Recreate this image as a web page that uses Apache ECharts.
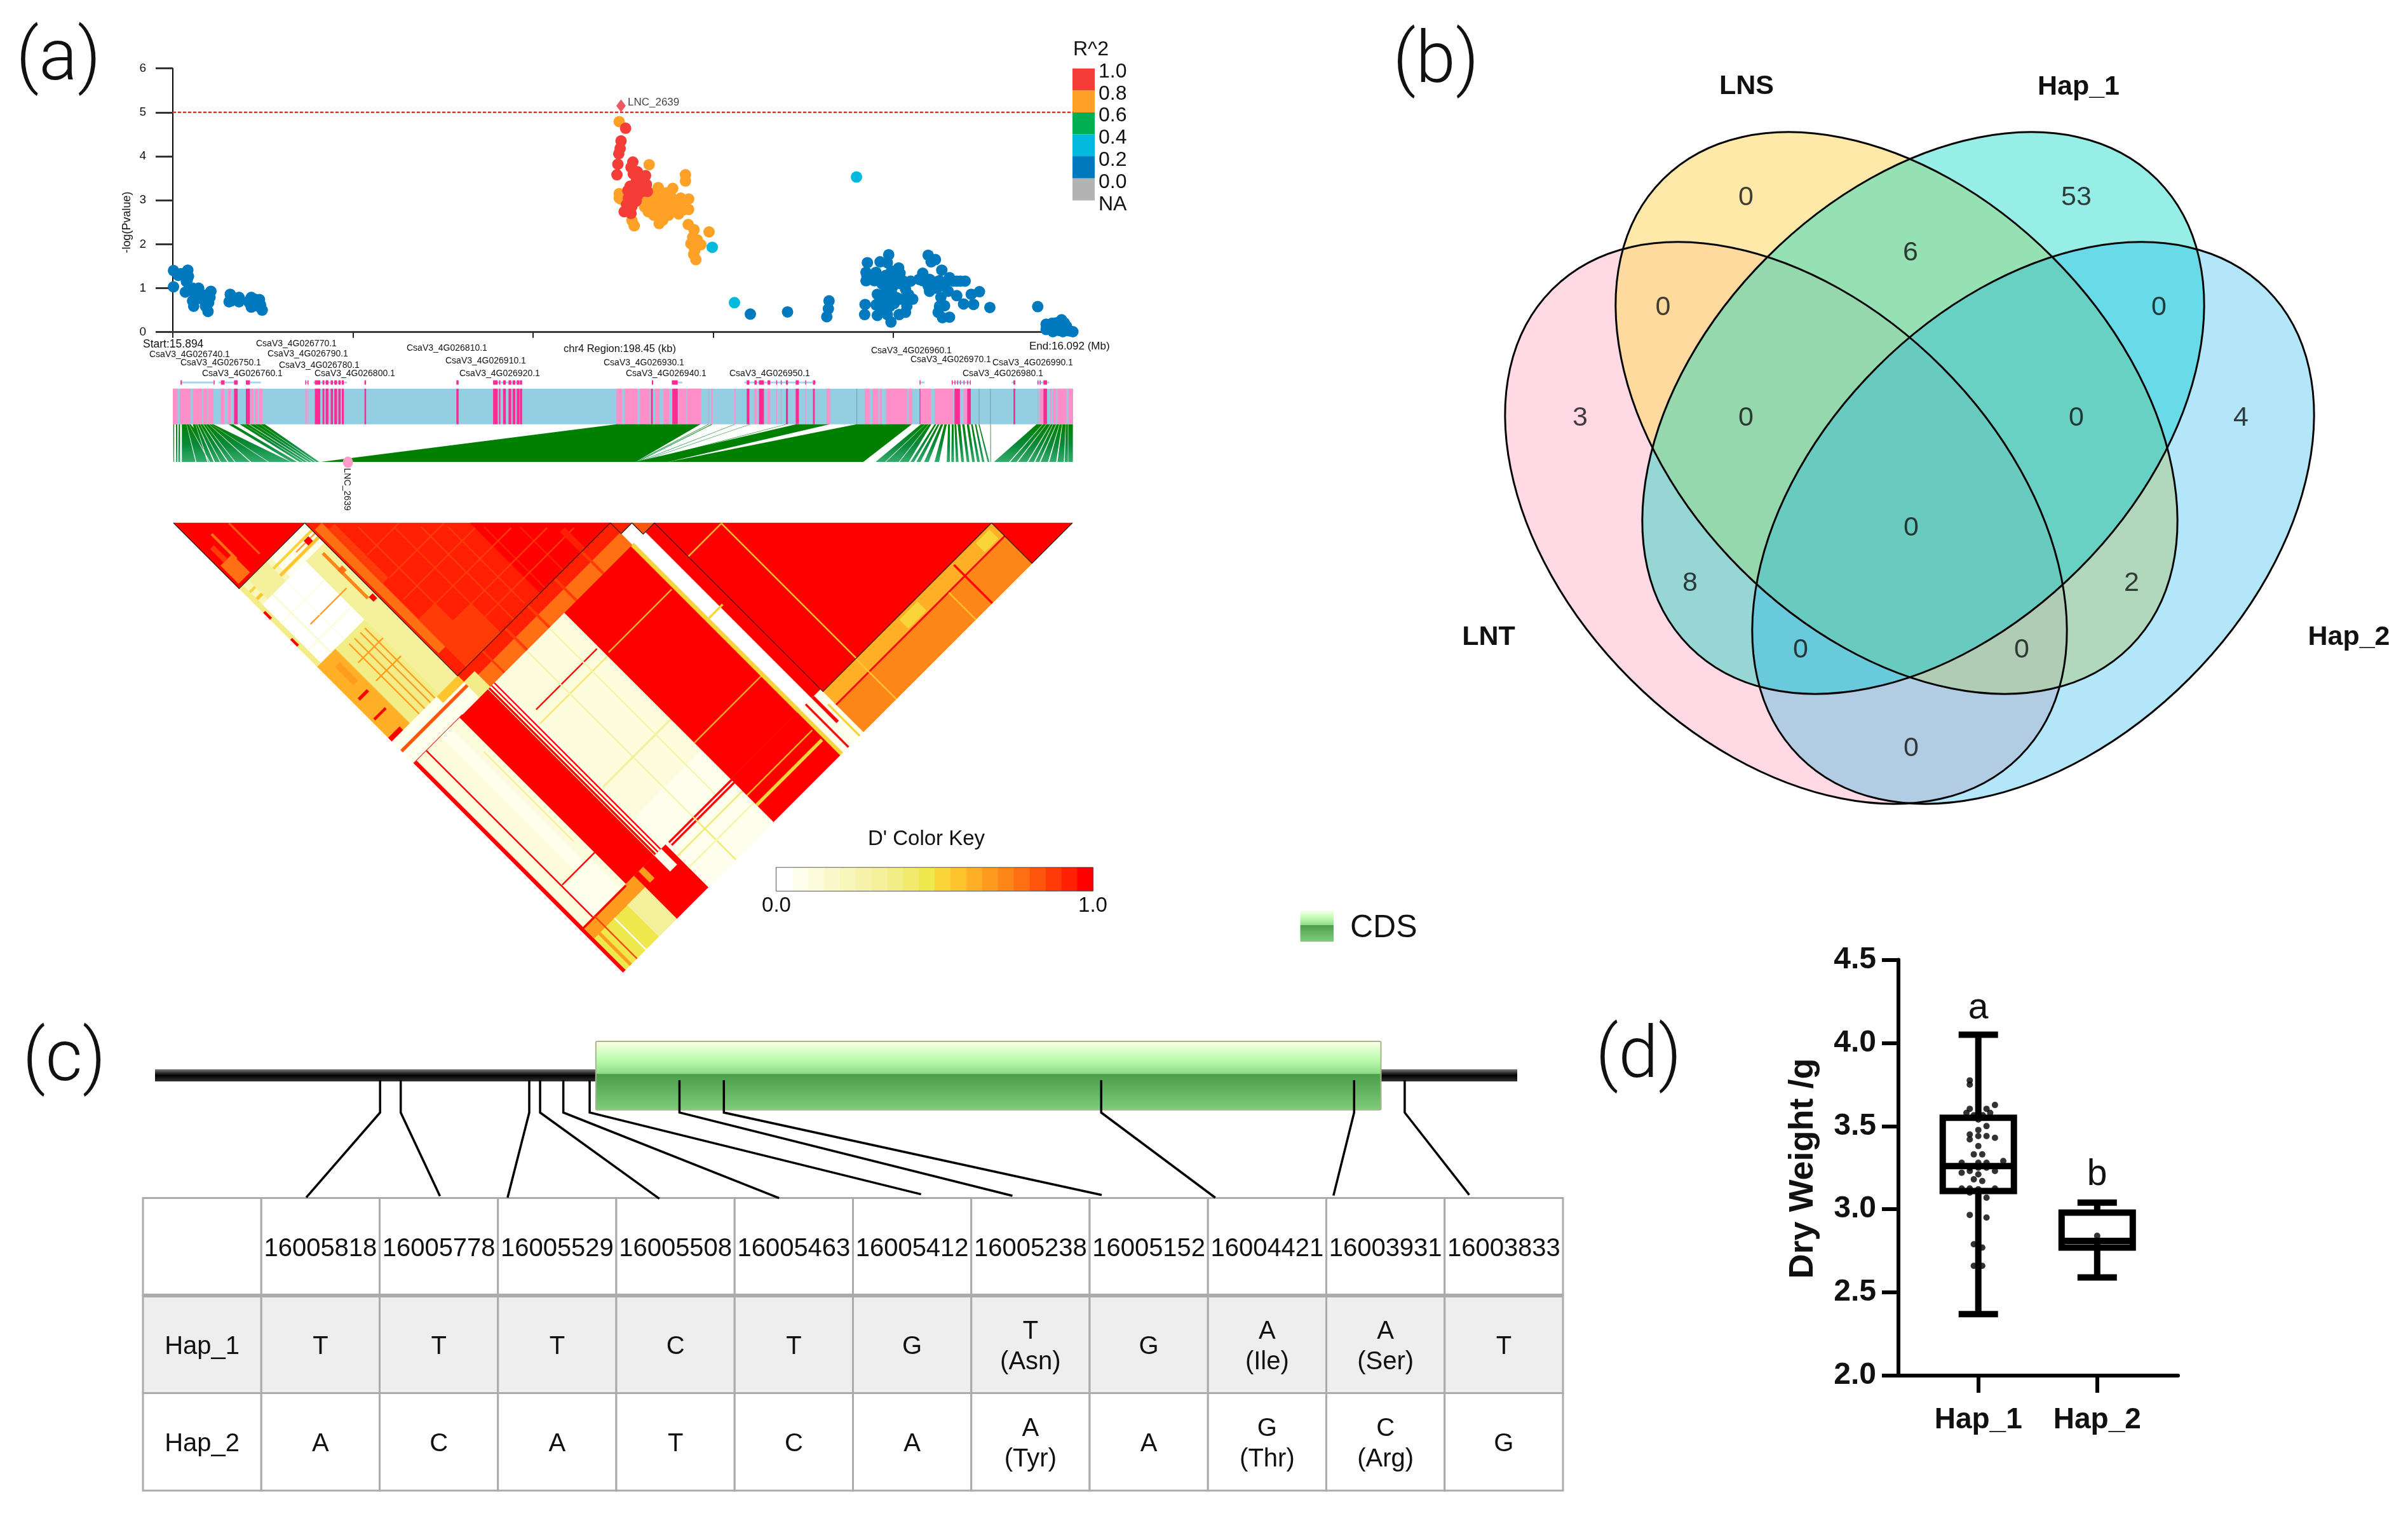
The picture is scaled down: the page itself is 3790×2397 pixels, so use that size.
<!DOCTYPE html>
<html><head><meta charset="utf-8">
<script src="https://cdn.jsdelivr.net/npm/echarts@6/dist/echarts.min.js"></script>
<style>html,body{margin:0;padding:0;background:#fff}#c{width:3790px;height:2397px}</style></head>
<body><div id="c"></div>
<script>
// ---------- (a) regional association: [kb from start, -log10(P)] ----------
const rBlue=[[.15,1.40],[.15,1.03],[1.2,1.29],[3.3,1.41],[3.46,1.27],[3,1.15],[2.75,.91],[4.35,1.0],[4.8,.88],[4.35,.71],[4.6,.59],[5.7,1.0],[6.1,.86],[7,.71],[7.2,.59],[7.75,.47],[8.4,.93],[8.2,.79],[7.9,.67],[12.66,.86],[12.4,.69],[12.84,.71],[14.6,.79],[14.6,.69],[17.3,.79],[16.85,.67],[17.3,.57],[19.1,.74],[19.35,.62],[19.7,.5],[18.2,.67],[1.8,1.33],[3.2,1.2],[5,.75],[5.5,.9],[6.5,.75],[7.5,.85],[13,.75],[18,.75],[18.5,.6],[16.9,.72],
[127.3,.41],[135.5,.46],[144.65,.71],[144.5,.53],[144.15,.35],
[153.1,1.58],[157.8,1.76],[155.9,1.6],[157.5,1.58],[160,1.46],[152.8,1.36],[155,1.36],[158.4,1.39],[160.3,1.34],[152.8,1.17],[154.65,1.17],[157.15,1.29],[159,1.2],[160.9,1.17],[162.65,1.16],[157.8,1.05],[161.5,.98],[155.3,.86],[159.3,.79],[161.2,.74],[163.1,.75],[155,.62],[158.1,.59],[159.6,.78],[161.8,.59],[152.6,.63],[152.5,.4],[155.3,.38],[157.5,.4],[158.3,.23],[160.1,.4],[161.5,.45],[157.2,.95],[158.4,.9],[153.6,1.26],[156,1.2],[157.8,1.25],[156.5,.75],[158,.72],[154,1.25],[153,1.28],[155.8,.72],[156.4,.55],[159,.65],[160.4,.75],[162.2,.85],[160.5,1.1],[156.3,1.1],[158.8,1.05],
[166.5,1.75],[168.1,1.65],[167.15,1.6],[169.5,1.41],[165.3,1.34],[171.2,1.24],[165.3,1.17],[167.2,1.15],[169,1.17],[170.9,1.17],[172.8,1.16],[174.65,1.16],[166.8,.93],[169.3,1.05],[170.9,.93],[169.3,.79],[172.8,.83],[177.8,.92],[176,.86],[174.3,.64],[176.5,.63],[169,.59],[168.7,.45],[169.65,.33],[171.2,.34],[180.1,.56],[190.65,.58],[166.5,1.05],[168,1.1],[164.5,1.2],[166.8,1.2],[168.2,1.0],[170.1,.6],[172,1.16],[173.6,1.16],[168.5,1.15],
[192.5,.18],[195.9,.28],[194.65,.21],[196.5,.21],[193.4,.09],[195.3,.04],[197.15,.06],[198.4,.01],[192.5,.06],[196.2,.01],[194,.01],[195.4,.18],[197.6,.03],[193,.14],[194,.12],[195,.13],[196,.12],[197,.13],[193.8,.2]];
const rCyan=[[118.9,1.93],[150.7,3.53],[123.8,.67]];
const rOrange=[[98.4,4.79],[105,3.81],[113,3.58],[113,3.44],[98.4,3.15],[98.4,3.05],[98.7,3.03],[107,3.29],[110.2,3.27],[108.8,3.17],[105.7,3.15],[104.4,3.07],[103.9,3.0],[106.6,3.07],[107.9,3.05],[109.7,3.1],[111.96,3.05],[113.7,3.03],[111.5,2.98],[109.3,2.95],[107,2.95],[105.3,2.88],[104.8,2.74],[106.6,2.76],[107.9,2.79],[109.7,2.83],[111.96,2.88],[113.7,2.79],[111.5,2.69],[109.3,2.66],[107,2.64],[107.2,2.47],[101.2,2.54],[101.7,2.42],[113.6,2.45],[114.9,2.33],[118.2,2.28],[114.6,2.16],[114.2,2.01],[116.4,1.99],[115.1,1.87],[115.3,1.65],[104,2.85],[106,2.95],[108.5,2.85],[110.5,2.9],[106,2.66],[108,2.55],[112.5,2.78],[115.6,2.1],[114.8,1.77],[115,1.9]];
const rRed=[[99.8,4.64],[98.8,4.35],[98.6,4.18],[98.3,4.06],[98.1,3.82],[97.9,3.58],[101.4,3.87],[101,3.75],[102.4,3.65],[104.2,3.56],[103,3.48],[102.1,3.41],[100.8,3.32],[104.4,3.36],[102.6,3.27],[100.3,3.22],[101.7,3.15],[103,3.32],[101.2,3.03],[102.1,2.98],[100.8,2.91],[100.3,2.76],[99.5,2.74],[101.2,2.86],[103.4,3.2],[101.9,3.05],[101.5,3.6],[102.6,3.5],[103.6,3.4],[100.4,3.05],[101,2.7],[104.6,3.2],[100,2.9],[102.4,3.1]];
const rLead=[[98.8,5.15]];
const pThreshold=5;
const xTickKb=[0,39.7,79.4,119.1,158.8];
const r2Colors=['#F53D37','#FFA126','#00B050','#00B9DC','#0079BF','#B3B3B3'];
const r2Labels=['1.0','0.8','0.6','0.4','0.2','0.0','NA'];

// ---------- (a) tracks: kb intervals ----------
const bandLight=[[0,1.08],[1.53,3.94],[4.39,6.44],[6.7,7.6],[7.8,8.94],[10.55,11.35],[12.07,12.78],[17.2,17.8],[18.1,18.7],[19,19.8],[29.2,29.5],[29.75,29.9],[97.8,99],[99.6,102.4],[102.9,105.1],[106.3,107.3],[108.15,109.4],[111.5,113.2],[113.4,116.5],[118,118.2],[118.7,119],[123.8,124],[128.2,128.7],[131.1,131.7],[133,133.2],[134,134.2],[139.4,139.6],[144.1,144.9],[152.5,153.6],[154.2,155.5],[155.8,156.3],[157.2,161.9],[162.2,163],[164.9,167.2],[167.9,172],[174.3,175],[190.6,190.8],[191.1,191.8],[193.4,193.7],[194,194.7],[195,197],[197.4,198.4]];
const bandDeep=[[13.5,14.3],[16.1,17],[31.3,32.5],[33,33.4],[33.7,34.3],[34.8,35.3],[35.6,36.2],[36.5,37],[37.25,37.7],[42.25,42.6],[62.5,63],[70.6,71.6],[71.9,72.2],[72.8,73.4],[74,74.6],[74.9,75.5],[75.8,76.4],[76.5,77],[105.4,105.8],[110.1,111.3],[126.5,127.1],[129.2,130.3],[135.15,135.6],[137.3,138],[141.1,141.5],[164.6,164.8],[172.3,173.5],[175.1,175.9],[185.3,185.7],[191.9,192.7]];
const bandGrey=[[150.7,150.85],[177.65,177.8],[180.15,180.3]];
const geneSpans=[[1.7,9.1],[10.1,14],[16.1,19.4],[29.2,29.9],[31,38.4],[70.6,76.8],[110,112.3],[126,141.8],[164.6,165.7],[171.6,175.9],[184.9,185.7],[190.5,193.2]];
const geneExons=[[1.7,2],[9,9.2],[10.6,11.4],[13.5,14.3],[16.1,17],[29.2,29.4],[29.7,29.9],[31.3,32.5],[33,33.4],[33.7,34.3],[34.8,35.3],[35.6,36.2],[36.5,37],[37.25,37.7],[42.25,42.6],[62.5,63],[70.6,71.6],[71.9,72.2],[72.8,73.4],[74,74.6],[74.9,75.5],[75.8,76.4],[76.5,77],[105.6,105.9],[110,111.3],[126.5,127.1],[128.2,128.7],[129.2,130.3],[131.1,131.7],[133,133.2],[134,134.2],[135.15,135.6],[137.3,138],[139.4,139.6],[141.1,141.6],[164.6,164.8],[171.7,171.9],[172.3,172.5],[172.9,173.1],[173.5,173.7],[174.3,174.5],[175.1,175.3],[175.7,175.9],[185.3,185.7],[190.6,190.8],[191.1,191.3],[191.9,192.7]];
// fan polygons: [top from, top to, bottom from, bottom to] in kb
const fanSolid=[[97.8,116.3,32.6,102],[137.4,144.8,101.9,109.2],[150.7,162.9,109.2,152.2]];
const fanFine=[[.1,.3,.1,.3],[.7,1,.7,1],[1.3,1.6,1.2,1.6],[2,3.94,2,10.9],[4.39,8.94,6.9,26],[12.25,13.3,26.1,27.4],[14.75,16.7,27.9,29.66],[16.9,20.3,29.9,32.3],
[118,118.2,101.9,102.2],[118.7,119,102.2,102.5],[123.8,124,102.4,102.7],[127.2,127.4,102.7,103],[135.15,135.4,103,103.6],
[164.9,167.2,154.9,162.2],[167.9,168.3,162.6,163.4],[168.6,169,163.9,164.8],[169.3,169.8,165.6,166.6],[170.1,170.6,167.9,168.9],[170.9,171.3,170.6,171.3],[171.7,172.1,171.6,172.2],[172.3,172.7,172.6,173.2],[173,173.6,173.8,174.4],[174,174.5,175,175.6],[175,175.5,176.2,176.8],[175.95,176.3,177.3,177.9],[176.8,177.1,178.4,178.9],[177.6,177.8,179.6,180],[180.2,180.3,180.2,180.35],[190.4,198.4,181,198.4]];
const fanGaps=[[5.4,5.5,9,9.3],[6.6,6.7,12,12.3],[3,3.06,5,5.2],[7.9,7.98,17,17.3],[3.5,3.55,8,8.2],[5,5.06,7.6,7.8],[6,6.06,10.4,10.6],[7.2,7.26,13.6,13.8],[8.4,8.46,21,21.2],[15.7,15.76,28.7,28.9],[18,18.06,30.6,30.8],[19.2,19.26,31.4,31.6],[165.8,165.86,157,157.2],[166.6,166.66,160,160.2],[191.7,191.8,184.3,184.6],[192.5,192.58,186,186.3],[193.4,193.5,188.3,188.6],[194,194.08,189.8,190.1],[194.7,194.8,191,191.3],[195.4,195.48,192.9,193.2],[196,196.1,194.7,195],[196.8,196.86,196.4,196.6],[197.3,197.38,197.3,197.38]];
const lncSnpKb=38.6;

// ---------- (a) D' LD map: [i from, i to, j from, j to, D'] as fractions of the SNP order ----------
const haploBlocks=[[0,.146],[.146,.486],[.486,.51],[.51,.535],[.535,.91],[.91,1]];
const ldCells=[
[0,.146,0,.146,1],[.005,.03,.10,.14,.8],[.028,.032,.055,.11,.8],[.06,.063,.062,.13,.85],[.012,.02,.07,.1,.9],
[.146,.486,.146,.486,.97],[.33,.486,.33,.486,1],[.15,.165,.165,.44,.78],[.165,.178,.18,.3,.88],[.165,.2,.38,.486,.9],[.2,.24,.42,.486,.92],
[.2,.202,.21,.486,.9],[.24,.242,.25,.486,.9],[.27,.272,.28,.486,.92],[.3,.302,.31,.48,.92],[.34,.342,.35,.486,.94],[.38,.382,.39,.486,.94],
[.18,.25,.25,.252,.9],[.18,.3,.3,.302,.9],[.17,.33,.34,.342,.9],[.17,.37,.38,.382,.92],[.2,.41,.42,.422,.92],[.2,.44,.45,.452,.92],[.42,.43,.44,.486,.96],
[.486,.51,.486,.51,.93],[.51,.535,.51,.535,.85],
[.535,.91,.535,.91,1],[.608,.61,.61,.91,.6],[.535,.608,.609,.611,.6],[.91,1,.91,1,1],
// S1 x S2
[0,.146,.146,.486,.2],[.07,.146,.146,.19,.05],[0,.146,.175,.18,.6],[0,.146,.16,.164,.55],[.02,.06,.146,.19,.3],[.008,.105,.19,.32,.02],[0,.008,.146,.32,.38],[.105,.146,.19,.486,.3],[.04,.105,.32,.486,.38],[0,.04,.32,.486,.62],[.04,.12,.264,.266,.7],[.03,.032,.19,.32,.15],[.06,.061,.19,.32,.12],[.008,.105,.23,.232,.1],[.008,.105,.29,.292,.1],[.06,.062,.33,.486,.66],[.072,.074,.33,.486,.66],[.085,.087,.33,.486,.7],[.095,.097,.33,.486,.7],[.05,.105,.36,.362,.68],[.05,.105,.40,.402,.68],[.01,.03,.40,.405,1],[.005,.03,.44,.444,1],[0,.025,.478,.486,.98],[.0,.004,.2,.215,1],[.0,.004,.26,.275,1],[.104,.146,.168,.17,.7],[.13,.135,.2,.3,.75],[.02,.03,.34,.38,.7],[.125,.135,.165,.175,1],[.13,.14,.235,.245,.8],[.135,.143,.3,.31,1],
// j in S3, S4 against S2
[.146,.486,.486,.508,.93],[.146,.486,.508,.535,.78],[.2,.203,.486,.535,.88],[.25,.254,.486,.535,.88],[.3,.304,.486,.535,.88],[.36,.364,.486,.535,.9],[.42,.424,.486,.535,.9],[.146,.17,.5,.535,.35],
// against S1
[0,.146,.486,.535,.03],[.1,.146,.486,.5,.6],[0,.146,.505,.51,.85],[0,.108,.534,.537,1],
// S5 column groups
[0,.102,.535,.905,.1],[.06,.08,.535,.905,.06],[.03,.09,.84,.905,.04],[.0,.006,.535,.905,1],[.027,.029,.535,.905,1],[.03,.102,.834,.836,1],[.09,.092,.6,.8,.3],
[.102,.165,.535,.905,1],[.165,.184,.535,.905,.03],[.166,.169,.535,.905,1],[.172,.174,.535,.905,1],[.178,.18,.535,.905,1],
[.184,.335,.535,.905,.08],[.196,.331,.61,.612,1],[.184,.335,.63,.632,.4],[.184,.335,.84,.905,.03],[.25,.252,.535,.905,.25],[.184,.335,.77,.773,.3],[.3,.302,.535,.905,.25],
[.335,.49,.535,.905,1],[.34,.48,.627,.629,.65],[.335,.49,.823,.825,.65],[.483,.49,.535,1,.52],[.49,.515,.535,.905,0],[.515,.535,.535,.905,1],[.49,.52,.7,.703,.5],
// S6 row groups
[0,.006,.905,1,1],[.006,.12,.905,1,.48],[.006,.12,.905,.93,.68],[.08,.12,.93,1,.3],[.05,.052,.93,1,.02],[0,.1,.905,.908,1],[.03,.032,.905,1,.9],[.015,.02,.93,1,.7],
[.12,.19,.905,1,1],[.165,.18,.905,.94,.05],[.13,.14,.905,.93,.7],
[.19,.335,.905,1,.03],[.196,.335,.905,.908,1],[.196,.335,.911,.914,1],[.19,.335,.93,.932,.4],[.25,.252,.905,1,.4],[.19,.335,.955,.958,.2],
[.335,.483,.905,1,1],[.335,.48,.94,.942,.65],[.335,.48,.93,.932,.98],[.335,.48,.96,.965,.5],
[.49,.535,.905,1,.05],[.5,.503,.905,1,1],[.515,.52,.905,.96,1],[.525,.528,.93,1,.55],
[.535,.91,.91,.938,.62],[.7,.74,.915,.935,.5],[.87,.9,.915,.935,.5],[.535,.91,.938,.941,.98],[.535,.91,.941,1,.76],[.82,.91,.941,1,.72],[.82,.823,.915,1,.98],[.607,.609,.91,1,.6],[.784,.786,.94,1,.6]
];
const keyColors=['#FFFFFF','#FEFEEC','#FDFCDC','#FBF9CC','#F9F6BC','#F7F3AC','#F5F09C','#F3ED88','#F1EA6C','#EFE84C','#F9D53A','#FFC52E','#FFB026','#FF9C20','#FF871A','#FF7014','#FF560E','#FF3C08','#FF2004','#FF0000'];
const keyLabels=['0.0','1.0'];

// ---------- (a) gene labels ----------
const geneNames=['CsaV3_4G026770.1','CsaV3_4G026740.1','CsaV3_4G026750.1','CsaV3_4G026790.1','CsaV3_4G026780.1','CsaV3_4G026760.1','CsaV3_4G026800.1','CsaV3_4G026810.1','CsaV3_4G026910.1','CsaV3_4G026920.1','CsaV3_4G026930.1','CsaV3_4G026940.1','CsaV3_4G026950.1','CsaV3_4G026960.1','CsaV3_4G026970.1','CsaV3_4G026990.1','CsaV3_4G026980.1'];

// ---------- (b) Venn ----------
const vennSets=['LNT','LNS','Hap_1','Hap_2'];
const vennCounts=[0,53,6,0,0,3,0,0,4,0,8,2,0,0,0];

// ---------- (c) haplotype table ----------
const snpPositions=[16005818,16005778,16005529,16005508,16005463,16005412,16005238,16005152,16004421,16003931,16003833];
const hap1Alleles=['T','T','T','C','T','G','T\n(Asn)','G','A\n(Ile)','A\n(Ser)','T'];
const hap2Alleles=['A','C','A','T','C','A','A\n(Tyr)','A','G\n(Thr)','C\n(Arg)','G'];
const geneSpan=[16006254,16003615];
const cdsSpan=[16005400,16003879];
const leaderTargets=[16005961,16005702,16005571,16005277,16005045,16004770,16004593,16004420,16004200,16003971,16003708];

// ---------- (d) dry weight ----------
const boxGroups=['Hap_1','Hap_2'];
const boxStats=[[1,2.37,3.11,3.26,3.55,4.05],[2,2.59,2.77,2.81,2.98,3.04]];
const boxLetters=['a','b'];
const dryWeightPoints=[[.928,3.775],[.928,3.75],[1.14,3.627],[.928,3.604],[1.069,3.604],[.9,3.58],[1.1,3.58],[.962,3.565],[1,3.565],[1.038,3.565],[1,3.54],[1,3.477],[1.069,3.5],[.928,3.45],[.928,3.42],[1,3.44],[1.069,3.44],[1.14,3.43],[1,3.38],[.962,3.33],[1.033,3.33],[1.21,3.29],[.86,3.28],[1,3.28],[1.069,3.28],[.928,3.25],[1,3.25],[1.069,3.25],[.928,3.23],[1.14,3.23],[.86,3.22],[1,3.21],[.962,3.18],[1.033,3.17],[.86,3.125],[.928,3.125],[1,3.12],[1.14,3.125],[.928,3.1],[1.069,3.07],[.928,2.966],[1.069,2.95],[.962,2.79],[1.033,2.77],[.962,2.66],[1.033,2.66],[2,2.84],[2,2.79],[2,2.78]];

// ---------------------------------------------------------------------------
const FONT='"Liberation Sans",Arial,Helvetica,sans-serif';
const chart=echarts.init(document.getElementById('c'),null,{renderer:'canvas',width:3790,height:2397});
const grids=[],xAxes=[],yAxes=[],series=[];
function hiddenAxis(min,max,inverse){return {type:'value',show:false,min,max,inverse:!!inverse,splitLine:{show:false}};}
function addGrid(box,x,y){grids.push(Object.assign({containLabel:false},box));xAxes.push(Object.assign({gridIndex:grids.length-1},x));yAxes.push(Object.assign({gridIndex:grids.length-1},y));return grids.length-1;}
function custom(g,data,renderItem,extra){series.push(Object.assign({type:'custom',xAxisIndex:g,yAxisIndex:g,data,renderItem,animation:false,silent:true,clip:false,progressive:0},extra||{}));}

// ---- Manhattan
const gM=addGrid({left:272,top:107.7,width:1417,height:415},
 {type:'value',min:0,max:198.45,axisLine:{show:true,onZero:false,lineStyle:{color:'#3a3a3a',width:3}},axisTick:{show:true,customValues:xTickKb,length:9,lineStyle:{color:'#222',width:2}},axisLabel:{show:false},splitLine:{show:false}},
 {type:'value',min:0,max:6,interval:1,axisLine:{show:true,lineStyle:{color:'#000',width:2}},axisTick:{show:true,length:27,lineStyle:{color:'#333',width:3}},axisLabel:{fontFamily:FONT,fontSize:19,color:'#111',margin:42},splitLine:{show:false}});
series.push({type:'line',xAxisIndex:gM,yAxisIndex:gM,data:[[0,pThreshold],[198.45,pThreshold]],symbol:'none',silent:true,animation:false,lineStyle:{color:'#E8303A',width:2.5,type:[5,3]},z:1});
[[rBlue,r2Colors[4]],[rCyan,r2Colors[3]],[rOrange,r2Colors[1]],[rRed,r2Colors[0]]].forEach(([d,c])=>series.push({type:'scatter',xAxisIndex:gM,yAxisIndex:gM,data:d,symbolSize:18,itemStyle:{color:c,opacity:1},silent:true,animation:false,clip:false,z:3,large:false}));
series.push({type:'scatter',xAxisIndex:gM,yAxisIndex:gM,data:rLead,symbol:'diamond',symbolSize:[15,20],itemStyle:{color:'#E8303A'},silent:true,animation:false,z:4,
 label:{show:true,position:'right',distance:3,offset:[0,-5],formatter:'LNC_2639',fontFamily:FONT,fontSize:17,color:'#111'}});

// ---- Tracks
const gT=addGrid({left:272,top:590,width:1417,height:140},hiddenAxis(0,198.45),hiddenAxis(0,140,true));
const BAND=[21.7,77.7],FANB=137,GENEY=12;
function bandRender(color){return (p,api)=>{const a=api.coord([api.value(0),BAND[0]]),b=api.coord([api.value(1),BAND[1]]);
 return {type:'rect',shape:{x:a[0],y:a[1],width:Math.max(b[0]-a[0],1),height:b[1]-a[1]},style:{fill:color}};};}
custom(gT,[[0,198.45]],bandRender('#94CEE3'),{z:1});
custom(gT,bandLight,bandRender('#FF8FC8'),{z:2});
custom(gT,bandGrey,bandRender('#7F9CA8'),{z:2});
custom(gT,bandDeep,bandRender('#FF2B92'),{z:3});
custom(gT,geneSpans,(p,api)=>{const a=api.coord([api.value(0),GENEY]),b=api.coord([api.value(1),GENEY]);
 return {type:'rect',shape:{x:a[0],y:a[1]-1.5,width:b[0]-a[0],height:3},style:{fill:'#A5D8E8'}};},{z:2});
custom(gT,geneExons,(p,api)=>{const a=api.coord([api.value(0),GENEY]),b=api.coord([api.value(1),GENEY]);
 return {type:'rect',shape:{x:a[0],y:a[1]-3.5,width:Math.max(b[0]-a[0],1.5),height:7},style:{fill:'#FF2B92'}};},{z:3});
function fanRender(color){return (p,api)=>{const A=api.coord([api.value(0),BAND[1]]),B=api.coord([api.value(1),BAND[1]]),C=api.coord([api.value(3),FANB]),D=api.coord([api.value(2),FANB]);
 return {type:'polygon',shape:{points:[A,B,C,D]},style:{fill:color,lineWidth:.4}};};}
custom(gT,fanFine,fanRender(new echarts.graphic.LinearGradient(0,0,0,1,[{offset:0,color:'#008000'},{offset:.55,color:'#0A8A3A'},{offset:1,color:'#35AC6C'}])),{z:1});
custom(gT,fanSolid,fanRender('#008000'),{z:2});
custom(gT,fanGaps,fanRender('#FFFFFF'),{z:3});
custom(gT,[[lncSnpKb]],(p,api)=>{const a=api.coord([api.value(0),FANB]);
 return {type:'ellipse',shape:{cx:a[0],cy:a[1]+.5,rx:8,ry:9},style:{fill:'#FF9CC8'}};},{z:4});

// ---- LD triangle
const gL=addGrid({left:273,top:823,width:1415,height:707.6},hiddenAxis(0,1),hiddenAxis(0,1,true));
const ldP=(i,j)=>[(i+j)/2,j-i];
const keyColor=v=>keyColors[Math.round(v*(keyColors.length-1))];
custom(gL,ldCells,(p,api)=>{const i0=api.value(0),i1=api.value(1),j0=api.value(2),j1=api.value(3),c=keyColor(api.value(4));
 const pts=[[i0,Math.max(j0,i0)],[i1,Math.max(j0,i1)],[i1,Math.max(j1,i1)],[i0,Math.max(j1,i0)]].map(q=>api.coord(ldP(q[0],q[1])));
 return {type:'polygon',shape:{points:pts},style:{fill:c,stroke:c,lineWidth:.5}};},{z:1});
custom(gL,haploBlocks,(p,api)=>{const a=api.value(0),b=api.value(1);
 return {type:'polyline',shape:{points:[[a,a],[a,b],[b,b]].map(q=>api.coord(ldP(q[0],q[1])))},style:{stroke:'#2a1a10',lineWidth:1.2,fill:'none'}};},{z:2});
// colour key
const gK=addGrid({left:1222,top:1365.6,width:498,height:36.4,show:true,borderColor:'#222',borderWidth:1.5,backgroundColor:'#fff'},hiddenAxis(0,keyColors.length),hiddenAxis(0,1));
custom(gK,keyColors.map((c,k)=>[k]),(p,api)=>{const a=api.coord([api.value(0),1]),b=api.coord([api.value(0)+1,0]);
 return {type:'rect',shape:{x:a[0],y:a[1],width:b[0]-a[0]+.5,height:b[1]-a[1]},style:{fill:keyColors[p.dataIndex]}};},{z:1});

// ---- Venn
const gV=addGrid({left:2300,top:100,width:1490,height:1200},hiddenAxis(0,1490),hiddenAxis(0,1200,true));
const vennShapes=[[511,723,-1,'rgb(255,179,199)',.5],[685,550,-1,'rgb(253,218,112)',.6],[727,550,1,'rgb(1,213,194)',.41],[900,723,1,'rgb(7,175,232)',.31]];
custom(gV,vennShapes.map(s=>[s[0],s[1]]),(p,api)=>{const s=vennShapes[p.dataIndex],c=api.coord([api.value(0),api.value(1)]);
 return {type:'ellipse',x:c[0],y:c[1],rotation:s[2]*Math.PI/4,shape:{cx:0,cy:0,rx:520,ry:347},style:{fill:s[3],opacity:s[4]}};},{z:1});
custom(gV,vennShapes.map(s=>[s[0],s[1]]),(p,api)=>{const s=vennShapes[p.dataIndex],c=api.coord([api.value(0),api.value(1)]);
 return {type:'ellipse',x:c[0],y:c[1],rotation:s[2]*Math.PI/4,shape:{cx:0,cy:0,rx:520,ry:347},style:{fill:'none',stroke:'#050505',lineWidth:3}};},{z:2});
const vennAt=[[448,211],[968,211],[707,298],[317.5,384],[1098,384],[187,558.5],[448,558],[968,558],[1227,558],[708,731],[360,818.6],[1055,818.6],[534,923],[882,923],[708,1078]];
series.push({type:'scatter',xAxisIndex:gV,yAxisIndex:gV,data:vennAt,symbolSize:0,silent:true,animation:false,z:3,
 label:{show:true,position:'inside',formatter:p=>String(vennCounts[p.dataIndex]),fontFamily:FONT,fontSize:43,color:'#111'}});

// ---- Table
const gTb=addGrid({left:225,top:1885.6,width:2235,height:460.4},hiddenAxis(0,12),hiddenAxis(0,3,true));
const tableCells=[['',...snpPositions.map(String)],['Hap_1',...hap1Alleles],['Hap_2',...hap2Alleles]].flatMap((r,ri)=>r.map((t,ci)=>({value:[ci,ri],text:t})));
custom(gTb,tableCells,(p,api)=>{const c=api.value(0),r=api.value(1),a=api.coord([c,r]),b=api.coord([c+1,r+1]),t=tableCells[p.dataIndex].text;
 const kids=[{type:'rect',shape:{x:a[0],y:a[1],width:b[0]-a[0],height:b[1]-a[1]},style:{fill:r===1?'#EEEEEE':'#fff',stroke:'#ABABAB',lineWidth:3}}];
 if(r===0)kids.push({type:'rect',shape:{x:a[0],y:b[1]-3,width:b[0]-a[0],height:6},z2:5,style:{fill:'#ABABAB'}});
 kids.push({type:'text',x:(a[0]+b[0])/2,y:(a[1]+b[1])/2+4,z2:6,style:{text:t,fill:'#111',fontFamily:FONT,fontSize:40,lineHeight:48,align:'center',verticalAlign:'middle'}});
 return {type:'group',children:kids};},{z:1});

// ---- Gene model
const gG=addGrid({left:244,top:1639,width:2144,height:247},Object.assign(hiddenAxis(geneSpan[1],geneSpan[0]),{inverse:true}),hiddenAxis(0,247,true));
const gradUTR=new echarts.graphic.LinearGradient(0,0,0,1,[{offset:0,color:'#777'},{offset:.5,color:'#000'},{offset:1,color:'#333'}]);
const gradCDS=()=>new echarts.graphic.LinearGradient(0,0,0,1,[{offset:0,color:'#FFFFE6'},{offset:.18,color:'#CFFFC0'},{offset:.3,color:'#B6F9A8'},{offset:.47,color:'#8FDD88'},{offset:.48,color:'#4E9F4D'},{offset:.62,color:'#58AA56'},{offset:1,color:'#7FCE7B'}]);
custom(gG,[geneSpan],(p,api)=>{const a=api.coord([api.value(0),44]),b=api.coord([api.value(1),63]);
 return {type:'rect',shape:{x:a[0],y:a[1],width:b[0]-a[0],height:b[1]-a[1]},style:{fill:gradUTR}};},{z:1});
custom(gG,[cdsSpan],(p,api)=>{const a=api.coord([api.value(0),0]),b=api.coord([api.value(1),107.7]);
 return {type:'rect',shape:{x:a[0],y:a[1],width:b[0]-a[0],height:b[1]-a[1],r:2},style:{fill:gradCDS(),stroke:'#A9B48C',lineWidth:2}};},{z:2});
custom(gG,snpPositions.map((s,k)=>[s,leaderTargets[k]]),(p,api)=>{const ends=[245.6,243.6,246,247.6,246.6,240.6,243,241.7,246,242.7,241.7];
 return {type:'polyline',shape:{points:[api.coord([api.value(0),61]),api.coord([api.value(0),112]),api.coord([api.value(1),ends[p.dataIndex]])]},style:{stroke:'#000',lineWidth:3.5,fill:'none'}};},{z:3});

// ---- Box plot
const gB=addGrid({left:2988,top:1510.6,width:440,height:654.4},
 {type:'value',min:.328,max:2.68,axisLine:{show:true,onZero:false,lineStyle:{color:'#000',width:6}},axisTick:{show:true,customValues:[1,2],length:27,lineStyle:{color:'#000',width:6}},axisLabel:{customValues:[1,2],formatter:v=>boxGroups[Math.round(v)-1],fontFamily:FONT,fontWeight:'bold',fontSize:46,color:'#111',margin:47},splitLine:{show:false}},
 {type:'value',min:2,max:4.5,interval:.5,axisLine:{show:true,onZero:false,lineStyle:{color:'#000',width:6}},axisTick:{show:true,length:26,lineStyle:{color:'#000',width:6}},axisLabel:{formatter:v=>v.toFixed(1),fontFamily:FONT,fontWeight:'bold',fontSize:48,color:'#111',margin:35,padding:[6,0,0,0]},splitLine:{show:false}});
custom(gB,boxStats,(p,api)=>{const x=api.value(0),P=v=>api.coord([x,v]),lo=P(api.value(1)),q1=P(api.value(2)),m=P(api.value(3)),q3=P(api.value(4)),hi=P(api.value(5)),cx=lo[0],W=56,C=31,st={stroke:'#000',lineWidth:10,fill:'none'};
 const L=(x1,y1,x2,y2)=>({type:'line',shape:{x1,y1,x2,y2},style:st});
 return {type:'group',children:[L(cx,hi[1],cx,q3[1]),L(cx,q1[1],cx,lo[1]),L(cx-C,hi[1],cx+C,hi[1]),L(cx-C,lo[1],cx+C,lo[1]),
  {type:'rect',shape:{x:cx-W,y:q3[1],width:2*W,height:q1[1]-q3[1]},style:st},L(cx-W,m[1],cx+W,m[1])]};},{z:2});
series.push({type:'scatter',xAxisIndex:gB,yAxisIndex:gB,data:dryWeightPoints,symbolSize:10,itemStyle:{color:'#000'},silent:true,animation:false,z:3});

// ---- Text and key furniture
const T=(x,y,text,fontSize,o)=>Object.assign({type:'text',x,y,silent:true,rotation:(o&&o.rot)||0,style:{text,fontSize,fontFamily:(o&&o.ff)||FONT,fontWeight:(o&&o.w)||'normal',fill:(o&&o.c)||'#111',align:(o&&o.a)||'left',verticalAlign:'middle'}});
const G=[];
[['(a)',92,97],['(b)',2260,101],['(c)',101,1672],['(d)',2579,1667]].forEach(l=>G.push(T(l[1],l[2],l[0],113,{a:'center',ff:'Roboto',w:300})));
G.push(T(200,350,'-log(Pvalue)',18,{a:'center',rot:Math.PI/2}));
G.push(T(225,542,'Start:15.894',17.5));
G.push(T(887,549,'chr4 Region:198.45 (kb)',16.5));
G.push(T(1620,545,'End:16.092 (Mb)',17));
const geneAt=[[403,541],[235,557.7],[284,570.7],[421,557],[439,575.3],[318,588.5],[495,588.5],[640,548],[701,567.7],[723,588.5],[950,571],[985,588.5],[1148,588.5],[1371,552],[1433,566.5],[1562,571],[1515,588.5]];
geneNames.forEach((n,k)=>G.push(T(geneAt[k][0],geneAt[k][1],n,14)));
G.push(T(546,770,'LNC_2639',14,{a:'center',rot:-Math.PI/2}));
G.push(T(1689,78,'R^2',32));
r2Colors.forEach((c,k)=>G.push({type:'rect',silent:true,shape:{x:1688,y:107.7+k*34.6,width:35,height:34.7},style:{fill:c}}));
r2Labels.forEach((t,k)=>G.push(T(1729,113+k*34.8,t,32)));
G.push(T(1458,1321,"D' Color Key",33,{a:'center'}));
G.push(T(1222,1426,keyLabels[0],33,{a:'center'}));
G.push(T(1720,1426,keyLabels[1],33,{a:'center'}));
G.push({type:'rect',silent:true,shape:{x:2046.5,y:1433,width:52.5,height:49},style:{fill:new echarts.graphic.LinearGradient(0,0,0,1,[{offset:0,color:'#F6FFE8'},{offset:.18,color:'#CFFFC0'},{offset:.47,color:'#8FDD88'},{offset:.48,color:'#4E9F4D'},{offset:1,color:'#7FCE7B'}])}});
G.push(T(2125,1461,'CDS',50));
const vennLab=[[2343,1003],[2749,136],[3271.5,137],[3697,1003]];
vennSets.forEach((s,k)=>G.push(T(vennLab[k][0],vennLab[k][1],s,43,{a:'center',w:'bold'})));
G.push(T(2838,1839,'Dry Weight /g',54,{a:'center',w:'bold',rot:Math.PI/2}));
G.push(T(3113.6,1587,boxLetters[0],57,{a:'center'}));
G.push(T(3300.7,1849,boxLetters[1],57,{a:'center'}));

chart.setOption({animation:false,backgroundColor:'#fff',tooltip:{show:false},legend:{show:false},grid:grids,xAxis:xAxes,yAxis:yAxes,series,graphic:{elements:G}});
</script></body></html>
